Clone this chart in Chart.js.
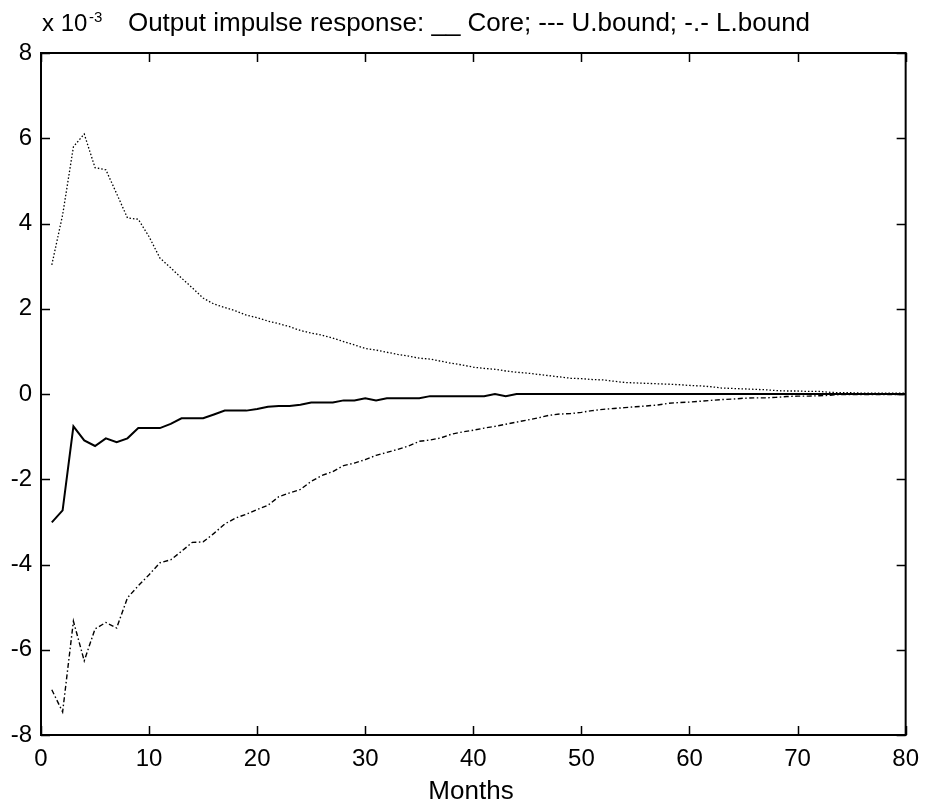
<!DOCTYPE html>
<html>
<head>
<meta charset="utf-8">
<script src="https://cdn.jsdelivr.net/npm/chart.js@4.4.0/dist/chart.umd.min.js"></script>
<style>
  body { margin: 0; background: #fff; }
  canvas { display: block; }
</style>
</head>
<body>
<canvas id="chart" width="929" height="809"></canvas>
<script>
// months after the shock
const months = [
  1, 2, 3, 4, 5, 6, 7, 8, 9, 10, 11, 12, 13, 14, 15, 16, 17, 18, 19, 20,
  21, 22, 23, 24, 25, 26, 27, 28, 29, 30, 31, 32, 33, 34, 35, 36, 37, 38, 39, 40,
  41, 42, 43, 44, 45, 46, 47, 48, 49, 50, 51, 52, 53, 54, 55, 56, 57, 58, 59, 60,
  61, 62, 63, 64, 65, 66, 67, 68, 69, 70, 71, 72, 73, 74, 75, 76, 77, 78, 79, 80
];

// values in units of 1e-3
const core = [
  -3.01, -2.73, -0.76, -1.09, -1.22, -1.04, -1.13, -1.04, -0.80, -0.80,
  -0.80, -0.70, -0.57, -0.57, -0.57, -0.48, -0.39, -0.39, -0.39, -0.35,
  -0.30, -0.28, -0.28, -0.25, -0.20, -0.20, -0.20, -0.15, -0.15, -0.10,
  -0.15, -0.10, -0.10, -0.10, -0.10, -0.05, -0.05, -0.05, -0.05, -0.05,
  -0.05, 0.00, -0.05, 0.00, 0.00, 0.00, 0.00, 0.00, 0.00, 0.00,
  0.00, 0.00, 0.00, 0.00, 0.00, 0.00, 0.00, 0.00, 0.00, 0.00,
  0.00, 0.00, 0.00, 0.00, 0.00, 0.00, 0.00, 0.00, 0.00, 0.00,
  0.00, 0.00, 0.00, 0.00, 0.00, 0.00, 0.00, 0.00, 0.00, 0.00
];

const upperBound = [
  3.03, 4.20, 5.80, 6.10, 5.31, 5.26, 4.70, 4.13, 4.10, 3.69,
  3.19, 2.96, 2.72, 2.49, 2.25, 2.11, 2.03, 1.95, 1.85, 1.79,
  1.71, 1.65, 1.58, 1.49, 1.43, 1.38, 1.31, 1.23, 1.15, 1.07,
  1.03, 0.98, 0.93, 0.89, 0.84, 0.82, 0.77, 0.72, 0.68, 0.63,
  0.60, 0.58, 0.54, 0.51, 0.49, 0.46, 0.43, 0.40, 0.37, 0.36,
  0.34, 0.33, 0.30, 0.27, 0.26, 0.25, 0.24, 0.23, 0.22, 0.20,
  0.19, 0.17, 0.14, 0.13, 0.12, 0.11, 0.10, 0.08, 0.07, 0.07,
  0.06, 0.06, 0.04, 0.03, 0.03, 0.02, 0.02, 0.02, 0.02, 0.02
];

const lowerBound = [
  -6.94, -7.46, -5.33, -6.26, -5.51, -5.36, -5.49, -4.78, -4.50, -4.24,
  -3.96, -3.89, -3.69, -3.48, -3.47, -3.27, -3.05, -2.91, -2.82, -2.71,
  -2.61, -2.41, -2.32, -2.24, -2.05, -1.91, -1.82, -1.68, -1.62, -1.54,
  -1.44, -1.37, -1.30, -1.22, -1.11, -1.08, -1.03, -0.94, -0.89, -0.85,
  -0.80, -0.76, -0.71, -0.66, -0.61, -0.56, -0.50, -0.47, -0.46, -0.43,
  -0.39, -0.36, -0.34, -0.32, -0.30, -0.28, -0.26, -0.22, -0.20, -0.19,
  -0.17, -0.15, -0.13, -0.12, -0.10, -0.09, -0.09, -0.08, -0.06, -0.05,
  -0.05, -0.04, -0.03, -0.01, -0.01, -0.01, -0.01, -0.01, -0.01, -0.01
];

const xTicks = [0, 10, 20, 30, 40, 50, 60, 70, 80];
const yTicks = [-8, -6, -4, -2, 0, 2, 4, 6, 8];

const FONT = "'Liberation Sans', Arial, sans-serif";

function pairs(ys) {
  return months.map((m, i) => ({ x: m, y: ys[i] }));
}

// matlab style box with inward ticks, plus title texts
const boxPlugin = {
  id: "box",
  afterDraw(chart) {
    const { ctx, chartArea: a, scales } = chart;
    ctx.save();
    ctx.strokeStyle = "#000";
    ctx.lineWidth = 2;
    ctx.strokeRect(a.left, a.top, a.right - a.left, a.bottom - a.top);
    ctx.lineWidth = 1.5;
    ctx.beginPath();
    xTicks.forEach(v => {
      const px = Math.round(scales.x.getPixelForValue(v)) + 0.5;
      ctx.moveTo(px, a.bottom); ctx.lineTo(px, a.bottom - 9);
      ctx.moveTo(px, a.top); ctx.lineTo(px, a.top + 9);
    });
    yTicks.forEach(v => {
      const py = Math.round(scales.y.getPixelForValue(v)) + 0.5;
      ctx.moveTo(a.left, py); ctx.lineTo(a.left + 9, py);
      ctx.moveTo(a.right, py); ctx.lineTo(a.right - 9, py);
    });
    ctx.stroke();

    ctx.fillStyle = "#000";
    ctx.textBaseline = "alphabetic";
    ctx.textAlign = "left";
    ctx.font = "24px " + FONT;
    ctx.fillText("x 10", 42, 31);
    ctx.font = "15px " + FONT;
    ctx.fillText("-3", 89, 22);
    ctx.font = "26px " + FONT;
    ctx.textAlign = "center";
    ctx.fillText("Output impulse response: __ Core; --- U.bound; -.- L.bound", 469, 31);
    ctx.fillText("Months", 471, 799);
    ctx.restore();
  }
};

new Chart(document.getElementById("chart"), {
  type: "line",
  data: {
    datasets: [
      {
        label: "Core",
        data: pairs(core),
        borderColor: "#000",
        borderWidth: 2
      },
      {
        label: "U.bound",
        data: pairs(upperBound),
        borderColor: "#000",
        borderWidth: 1.3,
        borderDash: [1.5, 2]
      },
      {
        label: "L.bound",
        data: pairs(lowerBound),
        borderColor: "#000",
        borderWidth: 1.4,
        borderDash: [5, 2.5, 1.5, 2.5]
      }
    ]
  },
  options: {
    responsive: false,
    animation: false,
    layout: { padding: { left: 0, right: 23, top: 53, bottom: 0 } },
    elements: { point: { radius: 0 }, line: { tension: 0 } },
    plugins: { legend: { display: false }, title: { display: false }, tooltip: { enabled: false } },
    scales: {
      x: {
        type: "linear",
        min: 0,
        max: 80,
        grid: { display: false, drawTicks: false },
        border: { display: false },
        afterFit(scale) { scale.height = 74; },
        afterBuildTicks(scale) { scale.ticks = xTicks.map(v => ({ value: v })); },
        ticks: { color: "#000", font: { family: FONT, size: 24 }, padding: 10, maxRotation: 0 }
      },
      y: {
        min: -8,
        max: 8,
        grid: { display: false, drawTicks: false },
        border: { display: false },
        afterFit(scale) { scale.width = 41; },
        afterBuildTicks(scale) { scale.ticks = yTicks.map(v => ({ value: v })); },
        ticks: { color: "#000", font: { family: FONT, size: 24 }, padding: 9 }
      }
    }
  },
  plugins: [boxPlugin]
});
</script>
</body>
</html>
